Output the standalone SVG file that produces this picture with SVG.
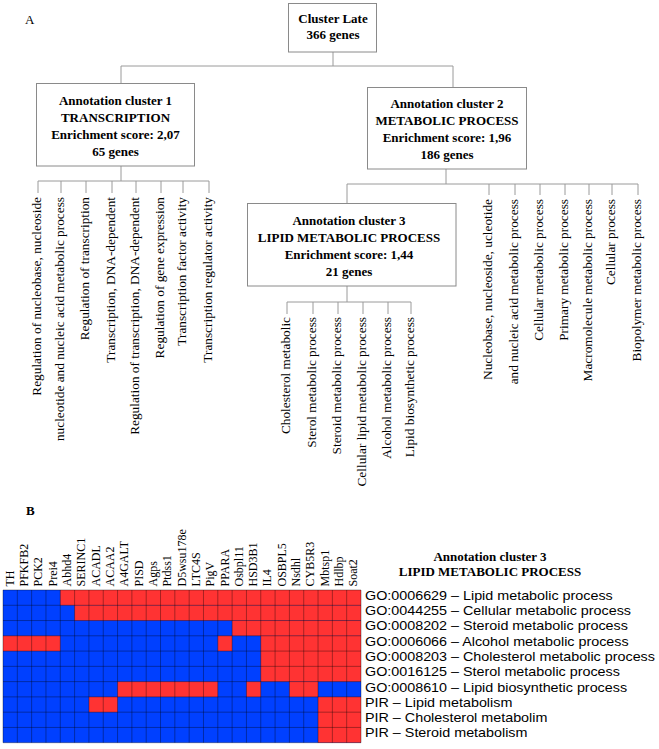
<svg xmlns="http://www.w3.org/2000/svg" width="659" height="749" viewBox="0 0 659 749">
<style>
.bx{fill:#fff;stroke:#8a8a8a;stroke-width:1}
.bt{font-family:"Liberation Serif","Times New Roman",serif;font-weight:bold;font-size:13px;fill:#000;text-anchor:middle}
.cn{fill:none;stroke:#9a9a9a;stroke-width:1}
.lab{font-family:"Liberation Serif","Times New Roman",serif;font-size:13.3px;fill:#000;text-anchor:end}
.gn{font-family:"Liberation Serif","Times New Roman",serif;font-size:12px;fill:#000}
.go{font-family:"Liberation Sans",Arial,sans-serif;font-size:12.5px;fill:#000}
.pl{font-family:"Liberation Serif","Times New Roman",serif;font-size:13px;fill:#000}
.b{fill:#0040ff}
.r{fill:#ff3333}
</style>
<rect width="659" height="749" fill="#fff"/>
<text class="pl" x="25" y="24">A</text>
<text class="pl" x="26" y="515" font-weight="bold" font-size="12.5">B</text>

<g id="connectors">
<path class="cn" d="M333,52V66M121,66H453M121,66V83M453,66V87"/>
<path class="cn" d="M121,166V181M38,181H209M38,181V193M61,181V193M86,181V193M112,181V193M136,181V193M161,181V193M183,181V193M209,181V193"/>
<path class="cn" d="M446,169V184M347,184H638M347,184V203M489,184V195M515,184V195M540,184V195M565,184V195M589,184V195M612,184V195M638,184V195"/>
<path class="cn" d="M347,286V302M287,302H411M287,302V314M313,302V314M338,302V314M363,302V314M388,302V314M411,302V314"/>
</g>

<g id="cluster-late">
<rect class="bx" x="288.5" y="3.5" width="88" height="48.5"/>
<text class="bt" x="333" y="23">Cluster Late</text>
<text class="bt" x="333" y="39">366 genes</text>
</g>

<g id="cluster1">
<rect class="bx" x="36.5" y="83.5" width="158" height="82.5"/>
<text class="bt" x="115.5" y="105">Annotation cluster 1</text>
<text class="bt" x="115.5" y="122">TRANSCRIPTION</text>
<text class="bt" x="115.5" y="139">Enrichment score: 2,07</text>
<text class="bt" x="115.5" y="156">65 genes</text>
</g>

<g id="cluster2">
<rect class="bx" x="367.5" y="87.5" width="159" height="81.5"/>
<text class="bt" x="447" y="108">Annotation cluster 2</text>
<text class="bt" x="447" y="125">METABOLIC PROCESS</text>
<text class="bt" x="447" y="142">Enrichment score: 1,96</text>
<text class="bt" x="447" y="159">186 genes</text>
</g>

<g id="cluster3">
<rect class="bx" x="247.5" y="203.5" width="208.5" height="82.5"/>
<text class="bt" x="349" y="225">Annotation cluster 3</text>
<text class="bt" x="349" y="242">LIPID METABOLIC PROCESS</text>
<text class="bt" x="349" y="259">Enrichment score: 1,44</text>
<text class="bt" x="349" y="276">21 genes</text>
</g>

<g id="cluster1-terms">
<text class="lab" transform="translate(41,197) rotate(-90)">Regulation of nucleobase, nucleoside</text>
<text class="lab" transform="translate(64,197) rotate(-90)">nucleotide and nucleic acid metabolic process</text>
<text class="lab" transform="translate(89,197) rotate(-90)">Regulation of transcription</text>
<text class="lab" transform="translate(115,197) rotate(-90)">Transcription, DNA-dependent</text>
<text class="lab" transform="translate(139,197) rotate(-90)">Regulation of transcription, DNA-dependent</text>
<text class="lab" transform="translate(164,197) rotate(-90)">Regulation of gene expression</text>
<text class="lab" transform="translate(186,197) rotate(-90)">Transcription factor activity</text>
<text class="lab" transform="translate(212,197) rotate(-90)">Transcription regulator activity</text>
</g>

<g id="cluster3-terms">
<text class="lab" transform="translate(290,317) rotate(-90)">Cholesterol metabolic</text>
<text class="lab" transform="translate(316,317) rotate(-90)">Sterol metabolic process</text>
<text class="lab" transform="translate(341,317) rotate(-90)">Steroid metabolic process</text>
<text class="lab" transform="translate(366,317) rotate(-90)">Cellular lipid metabolic process</text>
<text class="lab" transform="translate(391,317) rotate(-90)">Alcohol metabolic process</text>
<text class="lab" transform="translate(414,317) rotate(-90)">Lipid biosynthetic process</text>
</g>

<g id="cluster2-terms">
<text class="lab" transform="translate(492,199) rotate(-90)">Nucleobase, nucleoside, ucleotide</text>
<text class="lab" transform="translate(518,199) rotate(-90)">and nucleic acid metabolic process</text>
<text class="lab" transform="translate(543,199) rotate(-90)">Cellular metabolic process</text>
<text class="lab" transform="translate(568,199) rotate(-90)">Primary metabolic process</text>
<text class="lab" transform="translate(592,199) rotate(-90)">Macromolecule metabolic process</text>
<text class="lab" transform="translate(615,199) rotate(-90)">Cellular process</text>
<text class="lab" transform="translate(641,199) rotate(-90)">Biopolymer metabolic process</text>
</g>

<g id="heatmap-genes">
<text class="gn" transform="translate(13.7,586.5) rotate(-90)">TH</text>
<text class="gn" transform="translate(28,586.5) rotate(-90)">PFKFB2</text>
<text class="gn" transform="translate(42.3,586.5) rotate(-90)">PCK2</text>
<text class="gn" transform="translate(56.6,586.5) rotate(-90)">Prei4</text>
<text class="gn" transform="translate(70.9,586.5) rotate(-90)">Abhd4</text>
<text class="gn" transform="translate(85.3,586.5) rotate(-90)">SERINC1</text>
<text class="gn" transform="translate(99.6,586.5) rotate(-90)">ACADL</text>
<text class="gn" transform="translate(113.9,586.5) rotate(-90)">ACAA2</text>
<text class="gn" transform="translate(128.2,586.5) rotate(-90)">A4GALT</text>
<text class="gn" transform="translate(142.5,586.5) rotate(-90)">PISD</text>
<text class="gn" transform="translate(156.9,586.5) rotate(-90)">Agps</text>
<text class="gn" transform="translate(171.2,586.5) rotate(-90)">Ptdss1</text>
<text class="gn" transform="translate(185.5,586.5) rotate(-90)">D5wsu178e</text>
<text class="gn" transform="translate(199.8,586.5) rotate(-90)">LTC4S</text>
<text class="gn" transform="translate(214.1,586.5) rotate(-90)">PigV</text>
<text class="gn" transform="translate(228.5,586.5) rotate(-90)">PPARA</text>
<text class="gn" transform="translate(242.8,586.5) rotate(-90)">Osbpl11</text>
<text class="gn" transform="translate(257.1,586.5) rotate(-90)">HSD3B1</text>
<text class="gn" transform="translate(271.4,586.5) rotate(-90)">IL4</text>
<text class="gn" transform="translate(285.7,586.5) rotate(-90)">OSBPL5</text>
<text class="gn" transform="translate(300.1,586.5) rotate(-90)">Nsdhl</text>
<text class="gn" transform="translate(314.4,586.5) rotate(-90)">CYB5R3</text>
<text class="gn" transform="translate(328.7,586.5) rotate(-90)">Mbtsp1</text>
<text class="gn" transform="translate(343,586.5) rotate(-90)">Hdlbp</text>
<text class="gn" transform="translate(357.3,586.5) rotate(-90)">Soat2</text>
</g>

<g id="heatmap-title">
<text class="bt" x="490" y="561">Annotation cluster 3</text>
<text class="bt" x="490" y="576">LIPID METABOLIC PROCESS</text>
</g>

<g id="heatmap-grid">
<rect class="b" x="3" y="590" width="358" height="152.7"/>
<rect class="r" x="60.28" y="590" width="300.72" height="15.27"/>
<rect class="r" x="74.6" y="605.27" width="286.4" height="15.27"/>
<rect class="r" x="232.12" y="620.54" width="128.88" height="15.27"/>
<rect class="r" x="3" y="635.81" width="57.28" height="15.27"/>
<rect class="r" x="217.8" y="635.81" width="14.32" height="15.27"/>
<rect class="r" x="260.76" y="635.81" width="100.24" height="45.81"/>
<rect class="r" x="117.56" y="681.62" width="100.24" height="15.27"/>
<rect class="r" x="246.44" y="681.62" width="14.32" height="15.27"/>
<rect class="r" x="289.4" y="681.62" width="28.64" height="15.27"/>
<rect class="r" x="88.92" y="696.89" width="28.64" height="15.27"/>
<rect class="r" x="318.04" y="696.89" width="42.96" height="45.81"/>
<path fill="none" stroke="#000" stroke-opacity="0.35" stroke-width="1" d="M3,590V742.7M17.32,590V742.7M31.64,590V742.7M45.96,590V742.7M60.28,590V742.7M74.6,590V742.7M88.92,590V742.7M103.24,590V742.7M117.56,590V742.7M131.88,590V742.7M146.2,590V742.7M160.52,590V742.7M174.84,590V742.7M189.16,590V742.7M203.48,590V742.7M217.8,590V742.7M232.12,590V742.7M246.44,590V742.7M260.76,590V742.7M275.08,590V742.7M289.4,590V742.7M303.72,590V742.7M318.04,590V742.7M332.36,590V742.7M346.68,590V742.7M361,590V742.7M3,590H361M3,605.27H361M3,620.54H361M3,635.81H361M3,651.08H361M3,666.35H361M3,681.62H361M3,696.89H361M3,712.16H361M3,727.43H361M3,742.7H361"/>
</g>

<g id="heatmap-terms" transform="translate(365,0) scale(1.148,1)">
<text class="go" x="0" y="600">GO:0006629 – Lipid metabolic process</text>
<text class="go" x="0" y="615.3">GO:0044255 – Cellular metabolic process</text>
<text class="go" x="0" y="630.5">GO:0008202 – Steroid metabolic process</text>
<text class="go" x="0" y="645.8">GO:0006066 – Alcohol metabolic process</text>
<text class="go" x="0" y="661.1">GO:0008203 – Cholesterol metabolic process</text>
<text class="go" x="0" y="676.4">GO:0016125 – Sterol metabolic process</text>
<text class="go" x="0" y="691.6">GO:0008610 – Lipid biosynthetic process</text>
<text class="go" x="0" y="706.9">PIR – Lipid metabolism</text>
<text class="go" x="0" y="722.2">PIR – Cholesterol metabolim</text>
<text class="go" x="0" y="737.4">PIR – Steroid metabolism</text>
</g>
</svg>
